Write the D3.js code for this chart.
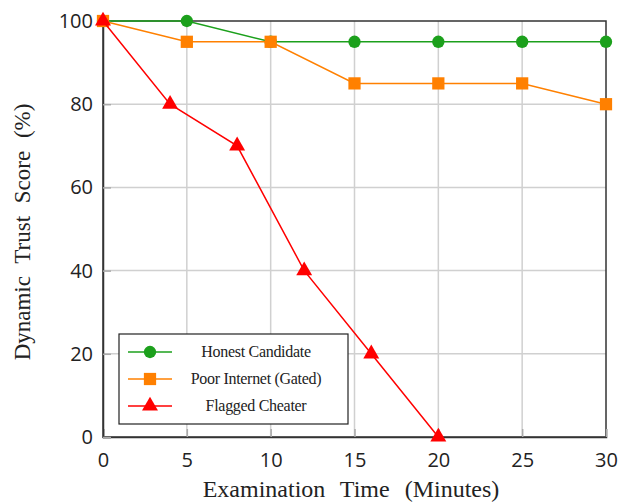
<!DOCTYPE html>
<html>
<head>
<meta charset="utf-8">
<script src="https://cdn.jsdelivr.net/npm/d3@7"></script>
<style>
  body { margin: 0; background: #fff; }
  .tick text { font-family: "Open Sans", "Liberation Sans", sans-serif; font-size: 20px; fill: #222; }
  .axis-title { font-family: "Liberation Serif", serif; fill: #222; }
</style>
</head>
<body>
<div id="chart"></div>
<script>
var honestX = [0, 5, 10, 15, 20, 25, 30];
var honestY = [100, 100, 95, 95, 95, 95, 95];
var poorX = [0, 5, 10, 15, 20, 25, 30];
var poorY = [100, 95, 95, 85, 85, 85, 80];
var cheatX = [0, 4, 8, 12, 16, 20];
var cheatY = [100, 80, 70, 40, 20, 0];
var xTicks = [0, 5, 10, 15, 20, 25, 30];
var yTicks = [0, 20, 40, 60, 80, 100];

var series = [
  { name: "Honest Candidate", xs: honestX, ys: honestY, color: "#1ca01c", shape: d3.symbolCircle, size: 120 },
  { name: "Poor Internet (Gated)", xs: poorX, ys: poorY, color: "#ff8000", shape: d3.symbolSquare, size: 150 },
  { name: "Flagged Cheater", xs: cheatX, ys: cheatY, color: "#ff0000", shape: d3.symbolTriangle, size: 110 }
];

var margin = { top: 21, right: 18, bottom: 67, left: 103 };
var width = 624 - margin.left - margin.right;
var height = 504 - margin.top - margin.bottom;

var svg = d3.select("#chart").append("svg")
  .attr("width", 624).attr("height", 504);
var g = svg.append("g")
  .attr("transform", "translate(" + margin.left + "," + margin.top + ")");

var x = d3.scaleLinear().domain([0, 30]).range([0, width]);
var y = d3.scaleLinear().domain([0, 100]).range([height, 0]);

// grid
g.selectAll(".vgrid").data(xTicks.slice(1, -1)).enter().append("line")
  .attr("x1", function (d) { return x(d); }).attr("x2", function (d) { return x(d); })
  .attr("y1", 0).attr("y2", height)
  .attr("stroke", "#d0d0d0").attr("stroke-width", 1.5);
g.selectAll(".hgrid").data(yTicks.slice(1, -1)).enter().append("line")
  .attr("y1", function (d) { return y(d); }).attr("y2", function (d) { return y(d); })
  .attr("x1", 0).attr("x2", width)
  .attr("stroke", "#d0d0d0").attr("stroke-width", 1.5);

// frame
g.append("rect").attr("width", width).attr("height", height)
  .attr("fill", "none").attr("stroke", "#333").attr("stroke-width", 1.5);

var xAxis = g.append("g")
  .attr("transform", "translate(0," + height + ")")
  .call(d3.axisBottom(x).tickValues(xTicks).tickSize(-8).tickPadding(16));
var yAxis = g.append("g")
  .call(d3.axisLeft(y).tickValues(yTicks).tickSize(-8).tickPadding(10));
[xAxis, yAxis].forEach(function (a) {
  a.select(".domain").attr("stroke", "#333").attr("stroke-width", 1.5);
  a.selectAll(".tick line").attr("stroke", "#aaa").attr("stroke-width", 1.5);
});

g.append("text").attr("class", "axis-title")
  .attr("x", 351 - margin.left).attr("y", 497 - margin.top)
  .attr("text-anchor", "middle")
  .style("font-size", "24px").style("word-spacing", "9px")
  .text("Examination Time (Minutes)");
g.append("text").attr("class", "axis-title")
  .attr("transform", "rotate(-90)")
  .attr("x", -(232 - margin.top)).attr("y", 30 - margin.left)
  .attr("text-anchor", "middle")
  .style("font-size", "23px").style("word-spacing", "7px")
  .text("Dynamic Trust Score (%)");

var line = d3.line().x(function (d) { return x(d[0]); }).y(function (d) { return y(d[1]); });

series.forEach(function (s) {
  var pts = s.xs.map(function (v, i) { return [v, s.ys[i]]; });
  g.append("path").datum(pts)
    .attr("d", line).attr("fill", "none")
    .attr("stroke", s.color).attr("stroke-width", 1.5);
  g.selectAll(null).data(pts).enter().append("path")
    .attr("transform", function (d) { return "translate(" + x(d[0]) + "," + y(d[1]) + ")"; })
    .attr("d", d3.symbol().type(s.shape).size(s.size))
    .attr("fill", s.color);
});

// legend
var lg = svg.append("g").attr("transform", "translate(119,334)");
lg.append("rect").attr("width", 229).attr("height", 90)
  .attr("fill", "#fff").attr("stroke", "#222").attr("stroke-width", 1.2);
series.forEach(function (s, i) {
  var yy = 18 + i * 27;
  lg.append("line").attr("x1", 9).attr("x2", 53).attr("y1", yy).attr("y2", yy)
    .attr("stroke", s.color).attr("stroke-width", 1.5);
  lg.append("path").attr("transform", "translate(31," + yy + ")")
    .attr("d", d3.symbol().type(s.shape).size(s.size)).attr("fill", s.color);
  lg.append("text").attr("x", 137).attr("y", yy + 5)
    .attr("text-anchor", "middle")
    .attr("font-family", "'Liberation Serif', 'DejaVu Serif', serif")
    .attr("font-size", 16).attr("letter-spacing", -0.3).attr("fill", "#222")
    .text(s.name);
});
</script>
</body>
</html>
